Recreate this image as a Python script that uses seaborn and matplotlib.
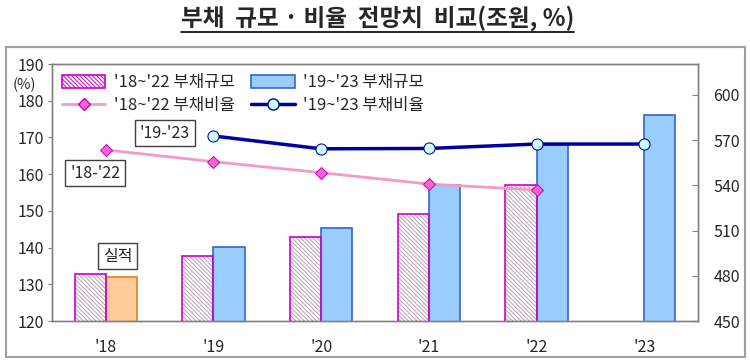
import numpy as np
import pandas as pd
import matplotlib
matplotlib.use("Agg")
import matplotlib.pyplot as plt
import seaborn as sns
from matplotlib.patches import Rectangle, Patch
from matplotlib.lines import Line2D

# data
years = ["'18", "'19", "'20", "'21", "'22", "'23"]
plans = ["'18~'22", "'19~'23"]
debt_1822 = [481, 493, 506, 521, 540, np.nan]      # 조원 (right axis)
debt_1923 = [479, 499, 512, 540, 567, 587]
ratio_1822 = [166.6, 163.4, 160.4, 157.3, 155.7, np.nan]   # % (left axis)
ratio_1923 = [np.nan, 170.4, 166.9, 167.0, 168.2, 168.2]

debt = pd.DataFrame({
    "year": years * 2,
    "plan": [plans[0]] * 6 + [plans[1]] * 6,
    "debt": debt_1822 + debt_1923,
})

sns.set_style("white")
plt.rcParams['font.family'] = ['Noto Sans CJK KR', 'DejaVu Sans']
plt.rcParams['hatch.linewidth'] = 0.7

grey = "#808080"
pink_edge = "#CC00CC"
hatch_col = "#B8A0B4"
hatch = "\\" * 8
blue_fill, blue_edge = "#99CCFF", "#3366CC"
orange_fill, orange_edge = "#FFCC99", "#E87D20"
pink_line, navy = "#F39AC8", "#0000A0"

fig = plt.figure(figsize=(7.5, 3.6), dpi=100)
ax = fig.add_axes([0.0693, 0.1083, 0.8614, 0.7139])

# debt bars (right axis)
sns.barplot(data=debt, x="year", y="debt", hue="plan", hue_order=plans,
            palette=["white", blue_fill], width=0.58, saturation=1,
            legend=False, ax=ax)

for bar in ax.containers[0]:
    bar.set_facecolor("white")
    bar.set_hatch(hatch)
    bar.set_edgecolor(hatch_col)
    bar.set_linewidth(0)
    ax.add_patch(Rectangle(bar.get_xy(), bar.get_width(), bar.get_height(),
                           fill=False, ec=pink_edge, lw=1.2, zorder=3))
for i, bar in enumerate(ax.containers[1]):
    if i == 0:
        bar.set_facecolor(orange_fill)
        bar.set_edgecolor(orange_edge)
    else:
        bar.set_edgecolor(blue_edge)
    bar.set_linewidth(1.2)

ax.set_ylim(450, 620.5)
ax.set_yticks(range(450, 601, 30))

# ratio lines (left axis)
ax2 = ax.twinx()
sns.lineplot(x=years, y=ratio_1822, color=pink_line, lw=2, marker="D",
             markersize=6.5, markerfacecolor="#FF66CC", markeredgecolor=pink_edge,
             ax=ax2)
sns.lineplot(x=years, y=ratio_1923, color=navy, lw=2.5, marker="o",
             markersize=8, markerfacecolor="#CCFFFF", markeredgecolor=navy,
             ax=ax2)
ax2.set_ylim(120, 190)
ax2.set_yticks(range(120, 191, 10))

# swap sides: bars -> right axis, lines -> left axis
ax.yaxis.tick_right()
ax2.yaxis.tick_left()
ax.set_xlim(-0.5, 5.5)
ax.set_xlabel("")
ax.set_ylabel("")
ax2.set_ylabel("")

ax.set_xticks(range(len(years)))
ax.set_xticklabels(years)
ax.set_xticks(np.arange(0.5, 5, 1), minor=True)
ax.tick_params(axis="x", which="major", length=0, pad=13, labelsize=11.5)
ax.tick_params(axis="x", which="minor", direction="in", length=4, color=grey)
ax.tick_params(axis="y", direction="in", length=4, color=grey, pad=11,
               labelsize=11.5)
ax2.tick_params(axis="y", direction="out", length=3, color=grey, pad=3,
                labelsize=11.5)

for a in (ax, ax2):
    for s in a.spines.values():
        s.set_color(grey)
        s.set_linewidth(1)

ax2.text(-0.042, 0.918, "(%)", transform=ax2.transAxes, ha="center",
         va="center", fontsize=10.5)

box = dict(boxstyle="square,pad=0.3", fc="white", ec="#404040", lw=1)
ax2.text(0.55, 171.2, "'19-'23", ha="center", va="center", fontsize=11.5, bbox=box)
ax2.text(-0.1, 160.3, "'18-'22", ha="center", va="center", fontsize=11.5, bbox=box)
ax2.text(0.11, 137.7, "실적", ha="center", va="center", fontsize=11.5, bbox=box)

handles = [
    Patch(facecolor="white", hatch=hatch, edgecolor=pink_edge, lw=1.2),
    Line2D([], [], color=pink_line, lw=2, marker="D", markersize=6.5,
           markerfacecolor="#FF66CC", markeredgecolor=pink_edge),
    Patch(facecolor=blue_fill, edgecolor=blue_edge, lw=1.2),
    Line2D([], [], color=navy, lw=2.5, marker="o", markersize=8,
           markerfacecolor="#CCFFFF", markeredgecolor=navy),
]
labels = [f"{plans[0]} 부채규모", f"{plans[0]} 부채비율",
          f"{plans[1]} 부채규모", f"{plans[1]} 부채비율"]
ax2.legend(handles, labels, ncol=2, loc="upper left", bbox_to_anchor=(0.0, 1.0),
           frameon=False, fontsize=12, handlelength=2.6, handleheight=0.8,
           handletextpad=0.5, columnspacing=1.0, labelspacing=0.35,
           borderaxespad=0.2)

# outer frame and underlined title
fig.patches.append(Rectangle((0.008, 0.008), 0.985, 0.862, transform=fig.transFigure,
                             fill=False, ec="#A0A0A0", lw=1.5))
title = fig.text(0.503, 0.95, "부채  규모 · 비율  전망치  비교(조원, %)",
                 ha="center", va="center", fontsize=17, fontweight="bold")
fig.canvas.draw()
bb = title.get_window_extent().transformed(fig.transFigure.inverted())
fig.lines.append(Line2D([bb.x0, bb.x1], [bb.y0 - 0.004, bb.y0 - 0.004],
                        transform=fig.transFigure, color="black", lw=1.2))

fig.savefig("out.png", dpi=100)
